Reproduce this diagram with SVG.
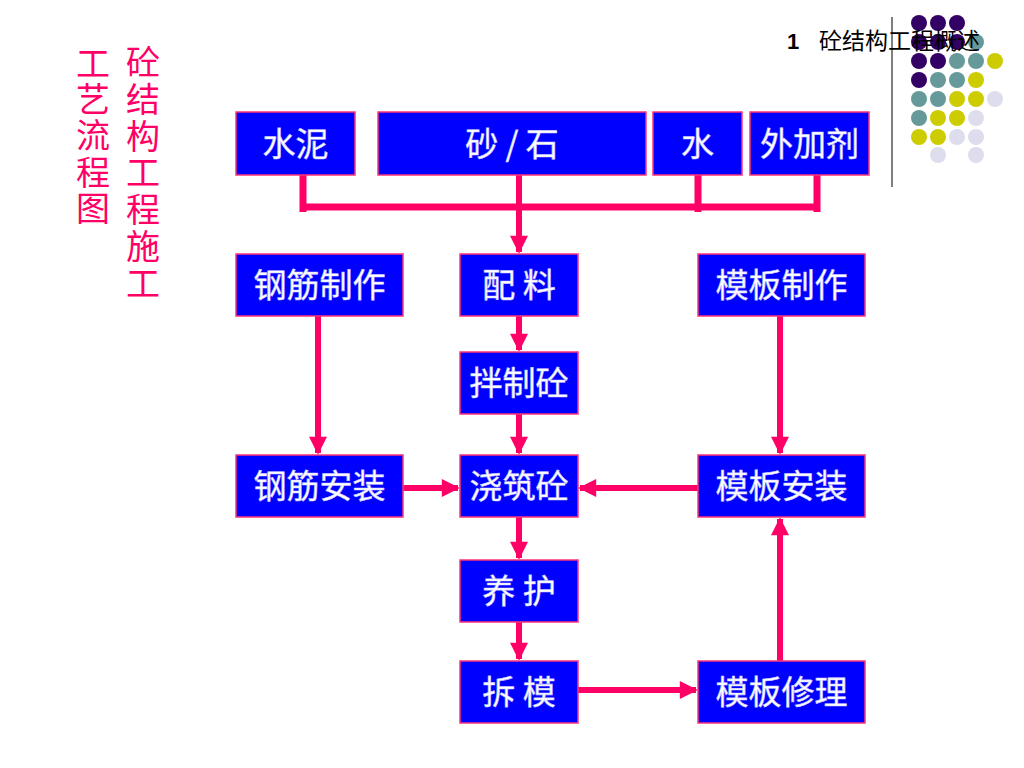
<svg xmlns="http://www.w3.org/2000/svg" width="1024" height="768" viewBox="0 0 1024 768">
<defs>
<style>
.box{fill:#0000ff;stroke:#ff3377;stroke-width:1.5}
.bt{font-family:"Noto Sans CJK SC","Liberation Sans",sans-serif;font-size:33px;fill:#ffffff;stroke:#c8c8ff;stroke-width:0.6;text-anchor:middle}
.side{font-family:"Noto Sans CJK SC",sans-serif;font-size:34px;fill:#ff0066;writing-mode:vertical-rl;text-orientation:upright}
.ln{stroke:#ff0066;stroke-width:7;fill:none}
.ar{stroke:#ff0066;stroke-width:6;fill:none}
.p{fill:#330066}.t{fill:#669999}.y{fill:#cccc00}.l{fill:#ddddee}
</style>
<marker id="ah" viewBox="0 0 10 10" refX="9" refY="5" markerWidth="3.2" markerHeight="3" orient="auto" markerUnits="strokeWidth">
<path d="M0,0 L10,5 L0,10 z" fill="#ff0066"/>
</marker>
</defs>
<rect width="1024" height="768" fill="#ffffff"/>
<g id="decor">
<line x1="892" y1="17" x2="892" y2="187" stroke="#555555" stroke-width="1.5"/>
<circle class="p" cx="919" cy="23" r="8"/><circle class="p" cx="938" cy="23" r="8"/><circle class="p" cx="957" cy="23" r="8"/>
<circle class="p" cx="919" cy="42" r="8"/><circle class="p" cx="938" cy="42" r="8"/><circle class="p" cx="957" cy="42" r="8"/><circle class="t" cx="976" cy="42" r="8"/>
<circle class="p" cx="919" cy="61" r="8"/><circle class="p" cx="938" cy="61" r="8"/><circle class="t" cx="957" cy="61" r="8"/><circle class="t" cx="976" cy="61" r="8"/><circle class="y" cx="995" cy="61" r="8"/>
<circle class="p" cx="919" cy="80" r="8"/><circle class="t" cx="938" cy="80" r="8"/><circle class="t" cx="957" cy="80" r="8"/><circle class="y" cx="976" cy="80" r="8"/>
<circle class="t" cx="919" cy="99" r="8"/><circle class="t" cx="938" cy="99" r="8"/><circle class="y" cx="957" cy="99" r="8"/><circle class="y" cx="976" cy="99" r="8"/><circle class="l" cx="995" cy="99" r="8"/>
<circle class="t" cx="919" cy="118" r="8"/><circle class="y" cx="938" cy="118" r="8"/><circle class="y" cx="957" cy="118" r="8"/><circle class="l" cx="976" cy="118" r="8"/>
<circle class="y" cx="919" cy="137" r="8"/><circle class="y" cx="938" cy="137" r="8"/><circle class="l" cx="957" cy="137" r="8"/><circle class="l" cx="976" cy="137" r="8"/>
<circle class="l" cx="938" cy="155" r="8"/><circle class="l" cx="976" cy="155" r="8"/>
<text x="787" y="49" font-family="Liberation Sans,sans-serif" font-size="22" font-weight="bold" fill="#000000">1</text>
<text x="819" y="49" font-family="Noto Sans CJK SC,sans-serif" font-size="23" fill="#000000">砼结构工程概述</text>
</g>
<g id="title">
<text class="side" x="93" y="46" letter-spacing="2.2">工艺流程图</text>
<text class="side" x="143" y="45" letter-spacing="2.8">砼结构工程施工</text>
</g>
<g id="connectors">
<path class="ln" d="M303,172 V212 M698,172 V212 M817,172 V212 M303,207 H817"/>
<line class="ar" x1="519" y1="172" x2="519" y2="252" marker-end="url(#ah)"/>
<line class="ar" x1="318" y1="316" x2="318" y2="453" marker-end="url(#ah)"/>
<line class="ar" x1="780" y1="316" x2="780" y2="453" marker-end="url(#ah)"/>
<line class="ar" x1="519" y1="316" x2="519" y2="350" marker-end="url(#ah)"/>
<line class="ar" x1="519" y1="414" x2="519" y2="453" marker-end="url(#ah)"/>
<line class="ar" x1="400" y1="488" x2="458" y2="488" marker-end="url(#ah)"/>
<line class="ar" x1="701" y1="488" x2="580" y2="488" marker-end="url(#ah)"/>
<line class="ar" x1="519" y1="517" x2="519" y2="558" marker-end="url(#ah)"/>
<line class="ar" x1="519" y1="622" x2="519" y2="659" marker-end="url(#ah)"/>
<line class="ar" x1="578" y1="690" x2="696" y2="690" marker-end="url(#ah)"/>
<line class="ar" x1="780" y1="661" x2="780" y2="519" marker-end="url(#ah)"/>
</g>
<g id="n-cement"><rect class="box" x="236" y="112" width="119" height="63"/><text class="bt" x="295.5" y="156">水泥</text></g>
<g id="n-sand"><rect class="box" x="378" y="112" width="268" height="63"/><text class="bt" x="512" y="156">砂 / 石</text></g>
<g id="n-water"><rect class="box" x="653" y="112" width="89" height="63"/><text class="bt" x="697.5" y="156">水</text></g>
<g id="n-additive"><rect class="box" x="750" y="112" width="119" height="63"/><text class="bt" x="809.5" y="156">外加剂</text></g>
<g id="n-rebar-make"><rect class="box" x="236" y="254" width="167" height="62"/><text class="bt" x="319.5" y="297">钢筋制作</text></g>
<g id="n-batch"><rect class="box" x="460" y="254" width="118" height="62"/><text class="bt" x="519" y="297">配 料</text></g>
<g id="n-form-make"><rect class="box" x="698" y="254" width="167" height="62"/><text class="bt" x="781.5" y="297">模板制作</text></g>
<g id="n-mix"><rect class="box" x="460" y="352" width="118" height="62"/><text class="bt" x="519" y="395">拌制砼</text></g>
<g id="n-rebar-install"><rect class="box" x="236" y="455" width="167" height="62"/><text class="bt" x="319.5" y="498">钢筋安装</text></g>
<g id="n-pour"><rect class="box" x="460" y="455" width="118" height="62"/><text class="bt" x="519" y="498">浇筑砼</text></g>
<g id="n-form-install"><rect class="box" x="698" y="455" width="167" height="62"/><text class="bt" x="781.5" y="498">模板安装</text></g>
<g id="n-cure"><rect class="box" x="460" y="560" width="118" height="62"/><text class="bt" x="519" y="603">养 护</text></g>
<g id="n-strip"><rect class="box" x="460" y="661" width="118" height="62"/><text class="bt" x="519" y="704">拆 模</text></g>
<g id="n-form-repair"><rect class="box" x="698" y="661" width="167" height="62"/><text class="bt" x="781.5" y="704">模板修理</text></g>
</svg>
